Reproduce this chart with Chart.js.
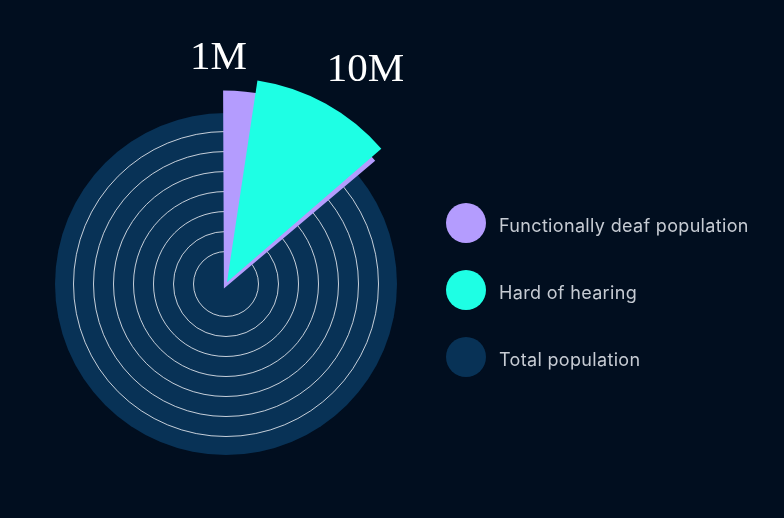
<!DOCTYPE html>
<html>
<head>
<meta charset="utf-8">
<script src="https://cdn.jsdelivr.net/npm/chart.js@4/dist/chart.umd.min.js"></script>
<style>
  html, body { margin: 0; padding: 0; background: #010e1f; }
  #wrap { position: relative; width: 784px; height: 518px; overflow: hidden; }
  #chartCanvas { position: absolute; left: 0; top: 0; }
  #legend { position: absolute; left: 446px; top: 203px; font-family: Inter, "Noto Sans", sans-serif; }
  #legend .row { display: flex; align-items: center; height: 40px; margin-bottom: 27px; }
  #legend .dot { width: 40px; height: 40px; border-radius: 50%; margin-right: 13px; flex: none; }
  #legend .txt { font-size: 18px; color: #c6cbd3; letter-spacing: 0.33px; white-space: nowrap; position: relative; top: 2px; }
</style>
</head>
<body>
<div id="wrap">
  <canvas id="chartCanvas" width="784" height="518"></canvas>
  <div id="legend"></div>
</div>
<script>
const categories = ['Functionally deaf population', 'Hard of hearing', 'Total population'];
const valueLabels = ['1M', '10M'];
const colors = ['#b49cfe', '#1effe4', '#083256'];

// wedge lengths on the radial scale (total population fills the whole scale)
const deafRadius = [203];
const hardRadius = [0, 202];
const totalRadius = 171;
// wedge angles in degrees, clockwise from 12 o'clock
const deafAngles = [49.6];
const hardAngles = [8.5, 40.75];
// the thin rings on the total population disc
const ringTicks = [0, 32.5, 52.5, 72.5, 92.5, 112.5, 132.5, 152.5];

// draws "1M" / "10M" next to the top corner of each wedge
const valueLabelPlugin = {
    id: 'valueLabels',
    afterDatasetsDraw(chart, args, opts) {
        const ctx = chart.ctx;
        ctx.save();
        ctx.fillStyle = opts.color;
        ctx.font = opts.font;
        ctx.textBaseline = 'alphabetic';
        ctx.textAlign = 'left';
        opts.items.forEach((it, i) => {
            const el = chart.getDatasetMeta(it.dataset).data[it.index];
            const mid = (el.startAngle + el.endAngle) / 2;
            const shift = (el.options.offset || 0) / 4;
            const cx = el.x + Math.cos(mid) * shift + Math.cos(el.startAngle) * el.outerRadius;
            const cy = el.y + Math.sin(mid) * shift + Math.sin(el.startAngle) * el.outerRadius;
            ctx.fillText(valueLabels[i], cx + it.dx, cy + it.dy);
        });
        ctx.restore();
    }
};

const config = {
    type: 'polarArea',
    data: {
        labels: categories,
        datasets: [
            {
                label: categories[0],
                data: deafRadius,
                angle: deafAngles,
                backgroundColor: colors[0],
                offset: -20,
                order: 2,
                clip: false
            },
            {
                label: categories[1],
                data: hardRadius,
                angle: hardAngles,
                backgroundColor: ['rgba(0,0,0,0)', colors[1]],
                offset: 8,
                order: 1,
                clip: false
            }
        ]
    },
    options: {
        responsive: false,
        animation: false,
        events: [],
        layout: { padding: { left: 55, top: 113, right: 387, bottom: 63 } },
        elements: { arc: { borderWidth: 0 } },
        scales: {
            r: {
                min: 0,
                max: totalRadius,
                backgroundColor: colors[2],
                ticks: { display: false },
                grid: { circular: true, color: 'rgba(230,234,240,0.85)', lineWidth: 1 },
                angleLines: { display: false },
                pointLabels: { display: false },
                afterBuildTicks: (axis) => {
                    axis.ticks = ringTicks.map(v => ({ value: v }));
                }
            }
        },
        plugins: {
            legend: { display: false },
            tooltip: { enabled: false },
            valueLabels: {
                color: '#ffffff',
                font: '41px "Liberation Serif", serif',
                items: [
                    { dataset: 0, index: 0, dx: -34, dy: -17 },
                    { dataset: 1, index: 1, dx: 70, dy: -1 }
                ]
            }
        }
    },
    plugins: [valueLabelPlugin]
};

const myChart = new Chart(document.getElementById('chartCanvas'), config);

// html legend with the big round swatches
const legendDiv = document.getElementById('legend');
categories.forEach((name, i) => {
    const row = document.createElement('div');
    row.className = 'row';
    const dot = document.createElement('span');
    dot.className = 'dot';
    dot.style.background = colors[i];
    const txt = document.createElement('span');
    txt.className = 'txt';
    txt.textContent = name;
    row.append(dot, txt);
    legendDiv.append(row);
});
</script>
</body>
</html>
